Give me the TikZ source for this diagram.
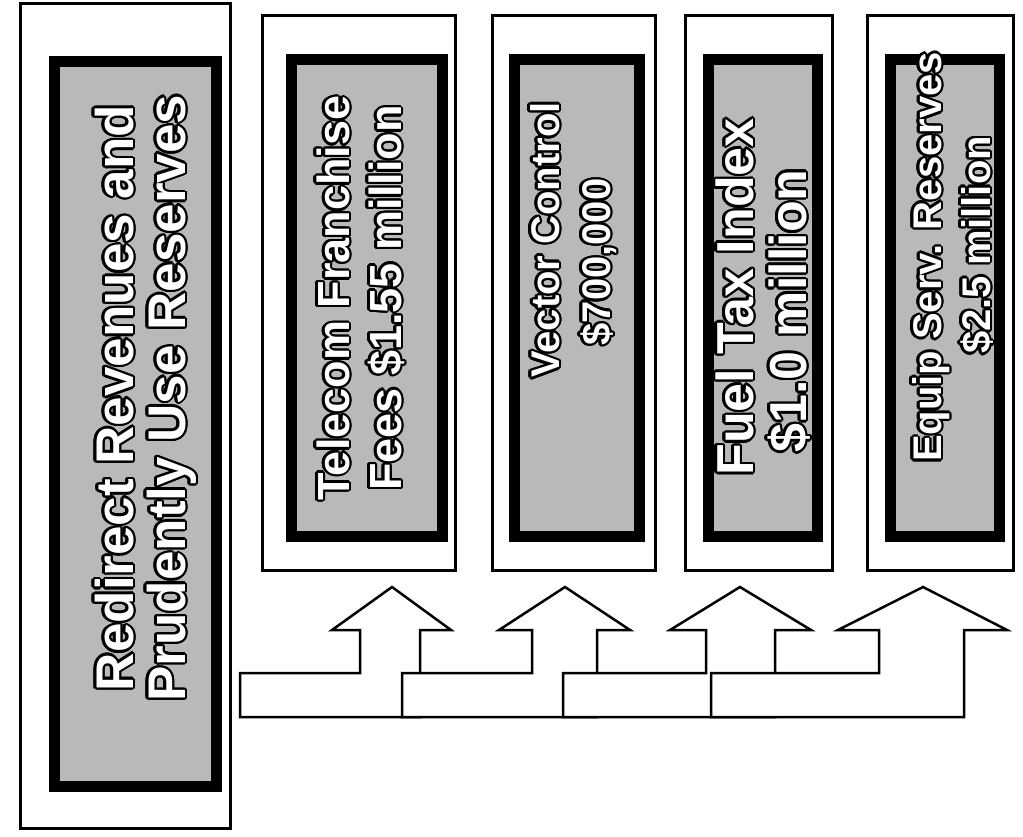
\documentclass[tikz,border=0pt]{standalone}
\usepackage{fontspec}
\setmainfont{Liberation Sans}
\usepackage{contour}
\contourlength{2.4pt}
\begin{document}
\begin{tikzpicture}[x=1pt,y=-1pt,
  outerframe/.style={draw=black, line width=3pt, fill=white},
  innerframe/.style={draw=black, line width=11pt, fill=gray!55},
  lbl/.style={rotate=90, text=white, inner sep=0pt, anchor=base},
  blockarrow/.style={draw=black, line width=2.5pt, fill=white, line join=miter}]
\useasboundingbox (0,0) rectangle (1023,836);
% big box
\draw[outerframe] (20,3) rectangle (230,828);
\draw[innerframe] (54,61) rectangle (216,786);
\node[lbl, font=\fontsize{53}{60}\selectfont\bfseries] (m1) at (133,398) {\contour{black}{Redirect Revenues and}};
\node[lbl, font=\fontsize{53}{60}\selectfont\bfseries] (m2) at (185,398) {\contour{black}{Prudently Use Reserves}};
% box 1
\draw[outerframe] (262,15) rectangle (455,570);
\draw[innerframe] (291,59) rectangle (442,536);
\node[lbl, font=\fontsize{45}{54}\selectfont\bfseries] (a1) at (349,298) {\contour{black}{Telecom Franchise}};
\node[lbl, font=\fontsize{45}{54}\selectfont\bfseries] (a2) at (401,298) {\contour{black}{Fees \$1.55 million}};
% box 2
\draw[outerframe] (492,15) rectangle (655,570);
\draw[innerframe] (514,59) rectangle (639,536);
\node[lbl, font=\fontsize{40}{48}\selectfont\bfseries] (b1) at (559,240) {\contour{black}{Vector Control}};
\node[lbl, font=\fontsize{40}{48}\selectfont\bfseries] (b2) at (610,262) {\contour{black}{\$700,000}};
% box 3
\draw[outerframe] (685,15) rectangle (832,570);
\draw[innerframe] (708,59) rectangle (817,536);
\node[lbl, font=\fontsize{52}{60}\selectfont\bfseries] (c1) at (753,297) {\contour{black}{Fuel Tax Index}};
\node[lbl, font=\fontsize{52}{60}\selectfont\bfseries] (c2) at (806,311) {\contour{black}{\$1.0 million}};
% box 4
\draw[outerframe] (867,15) rectangle (1013,570);
\draw[innerframe] (890,59) rectangle (999,536);
\node[lbl, font=\fontsize{40}{48}\selectfont\bfseries] (d1) at (941,257) {\contour{black}{Equip Serv. Reserves}};
\node[lbl, font=\fontsize{40}{48}\selectfont\bfseries] (d2) at (990,245) {\contour{black}{\$2.5 million}};
% block arrows
\draw[blockarrow] (240,717) -- (240,673) -- (360,673) -- (360,630) -- (332,630) -- (392,587) -- (451,630) -- (420,630) -- (420,717) -- cycle;
\draw[blockarrow] (402,717) -- (402,673) -- (532,673) -- (532,630) -- (499,630) -- (565,587) -- (630,630) -- (597,630) -- (597,717) -- cycle;
\draw[blockarrow] (563,717) -- (563,673) -- (706,673) -- (706,630) -- (670,630) -- (740,587) -- (811,630) -- (775,630) -- (775,717) -- cycle;
\draw[blockarrow] (711,717) -- (711,673) -- (879,673) -- (879,630) -- (838,630) -- (923,587) -- (1007,630) -- (964,630) -- (964,717) -- cycle;
\end{tikzpicture}
\end{document}
